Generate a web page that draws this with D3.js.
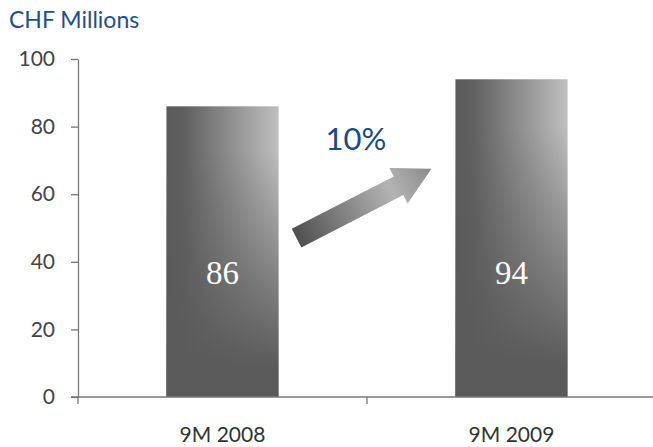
<!DOCTYPE html>
<head>
  <meta charset="utf-8">
  <script src="https://d3js.org/d3.v7.min.js"></script>
  <style>
    body { margin: 0; background: #fff; }
    svg { width: 653px; height: 447px; display: block; }
    text { font-family: Lato, "Open Sans", sans-serif; }
  </style>
</head>

<body>
  <svg></svg>

  <script>
    const width = 653;
    const height = 447;

    // chart data
    const categories = ['9M 2008', '9M 2009'];
    const values = [86, 94];
    const yTicks = [0, 20, 40, 60, 80, 100];
    const growthLabel = '10%';
    const unitLabel = 'CHF Millions';

    const svg = d3.select('svg')
      .attr('viewBox', `0 0 ${width} ${height}`);

    const x = d3.scaleBand()
      .domain(categories)
      .range([78, 656])
      .paddingInner(0.612)
      .paddingOuter(0.306);

    const y = d3.scaleLinear()
      .domain([0, 100])
      .range([397, 59]);

    // gradients for bars: light on the upper right, dark at the left and bottom
    const defs = svg.append('defs');
    const hGrad = defs.append('linearGradient')
      .attr('id', 'barH').attr('x1', 0).attr('x2', 1).attr('y1', 0).attr('y2', 0);
    hGrad.append('stop').attr('offset', '0%').attr('stop-color', '#5a5a5a');
    hGrad.append('stop').attr('offset', '15%').attr('stop-color', '#5f5f5f');
    hGrad.append('stop').attr('offset', '100%').attr('stop-color', '#bfbfbf');

    const vGrad = defs.append('linearGradient')
      .attr('id', 'barV').attr('x1', 0).attr('x2', 0).attr('y1', 0).attr('y2', 1);
    vGrad.append('stop').attr('offset', '15%').attr('stop-color', '#5a5a5a').attr('stop-opacity', 0);
    vGrad.append('stop').attr('offset', '90%').attr('stop-color', '#5a5a5a').attr('stop-opacity', 1);

    // y axis
    const yAxis = svg.append('g')
      .attr('transform', `translate(${x.range()[0]},0)`)
      .call(d3.axisLeft(y).tickValues(yTicks).tickSize(7).tickSizeOuter(0).tickPadding(16));
    yAxis.select('.domain').attr('stroke', '#777').attr('stroke-width', 1.3);
    yAxis.selectAll('.tick line').attr('stroke', '#777').attr('stroke-width', 1.3);
    yAxis.selectAll('.tick text')
      .attr('fill', '#444')
      .style('font-size', '21px')
      .style('font-family', 'Lato, sans-serif');

    // bars
    const bars = svg.append('g').selectAll('g')
      .data(values).enter().append('g');

    bars.append('rect')
      .attr('x', (d, i) => x(categories[i]))
      .attr('y', d => y(d))
      .attr('width', x.bandwidth())
      .attr('height', d => y(0) - y(d))
      .attr('fill', 'url(#barH)');

    bars.append('rect')
      .attr('x', (d, i) => x(categories[i]))
      .attr('y', d => y(d))
      .attr('width', x.bandwidth())
      .attr('height', d => y(0) - y(d))
      .attr('fill', 'url(#barV)');

    bars.append('text')
      .attr('x', (d, i) => x(categories[i]) + x.bandwidth() / 2)
      .attr('y', y(33.5))
      .attr('text-anchor', 'middle')
      .attr('fill', '#fff')
      .style('font-family', '"Liberation Serif", serif')
      .style('font-size', '33px')
      .text(d => d);

    // x axis: baseline with ticks at category boundaries
    const xAxis = svg.append('g');
    const [x0, x1] = x.range();
    xAxis.append('line')
      .attr('x1', x0 - 7).attr('x2', x1)
      .attr('y1', y(0)).attr('y2', y(0))
      .attr('stroke', '#777').attr('stroke-width', 1.3);
    const boundaries = [x0, (x0 + x1) / 2, x1];
    xAxis.selectAll('.bound')
      .data(boundaries).enter().append('line')
      .attr('x1', d => d).attr('x2', d => d)
      .attr('y1', y(0)).attr('y2', y(0) + 7)
      .attr('stroke', '#777').attr('stroke-width', 1.3);
    xAxis.selectAll('.cat')
      .data(categories).enter().append('text')
      .attr('x', d => x(d) + x.bandwidth() / 2)
      .attr('y', 442)
      .attr('text-anchor', 'middle')
      .attr('fill', '#333')
      .style('font-size', '21px')
      .text(d => d);

    // growth arrow between the bars
    const tail = [x(categories[0]) + x.bandwidth() + 18, y(47)];
    const tip = [x(categories[1]) - 24, y(67.5)];
    const dx = tip[0] - tail[0], dy = tip[1] - tail[1];
    const len = Math.hypot(dx, dy);
    const ang = Math.atan2(dy, dx) * 180 / Math.PI;
    const headLen = 37, headHalf = 20, shaftHalf = 10.5;

    const aGrad = defs.append('linearGradient')
      .attr('id', 'arrowG').attr('gradientUnits', 'userSpaceOnUse')
      .attr('x1', 0).attr('y1', 0).attr('x2', len).attr('y2', 0);
    aGrad.append('stop').attr('offset', '0%').attr('stop-color', '#505050');
    aGrad.append('stop').attr('offset', '70%').attr('stop-color', '#b4b4b4');
    aGrad.append('stop').attr('offset', '100%').attr('stop-color', '#8a8a8a');

    const arrowPath = d3.path();
    arrowPath.moveTo(0, -shaftHalf);
    arrowPath.lineTo(len - headLen, -shaftHalf);
    arrowPath.lineTo(len - headLen, -headHalf);
    arrowPath.lineTo(len, 0);
    arrowPath.lineTo(len - headLen, headHalf);
    arrowPath.lineTo(len - headLen, shaftHalf);
    arrowPath.lineTo(0, shaftHalf);
    arrowPath.closePath();

    svg.append('path')
      .attr('transform', `translate(${tail[0]},${tail[1]})rotate(${ang})`)
      .attr('d', arrowPath.toString())
      .attr('fill', 'url(#arrowG)');

    svg.append('text')
      .attr('x', (tail[0] + tip[0]) / 2 - 8)
      .attr('y', y(73))
      .attr('text-anchor', 'middle')
      .attr('fill', '#1a4a82')
      .style('font-size', '31px')
      .text(growthLabel);

    // unit label
    svg.append('text')
      .attr('x', 9)
      .attr('y', 28)
      .attr('fill', '#1f4f8a')
      .style('font-size', '23px')
      .text(unitLabel);
  </script>
</body>
